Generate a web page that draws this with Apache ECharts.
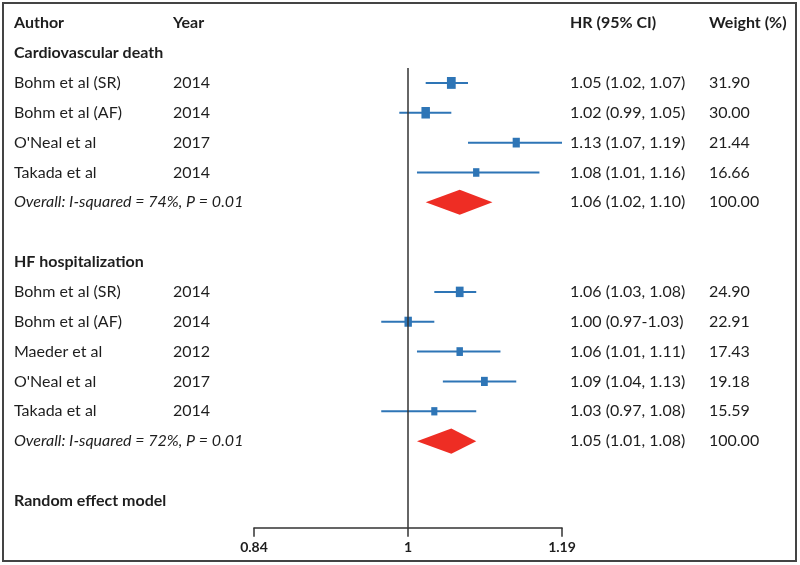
<!DOCTYPE html>
<html>
<head>
<meta charset="utf-8">
<script src="https://cdn.jsdelivr.net/npm/echarts@6/dist/echarts.min.js"></script>
<style>
  html, body { margin: 0; padding: 0; background: #fff; }
  #chart { width: 800px; height: 565px; }
</style>
</head>
<body>
<div id="chart"></div>
<script>
// study level data
const authors = ['Bohm et al (SR)', 'Bohm et al (AF)', "O'Neal et al", 'Takada et al',
                 'Bohm et al (SR)', 'Bohm et al (AF)', 'Maeder et al', "O'Neal et al", 'Takada et al'];
const years = ['2014', '2014', '2017', '2014', '2014', '2014', '2012', '2017', '2014'];
const hr = [1.05, 1.02, 1.13, 1.08, 1.06, 1.00, 1.06, 1.09, 1.03];
const lower = [1.02, 0.99, 1.07, 1.01, 1.03, 0.97, 1.01, 1.04, 0.97];
const upper = [1.07, 1.05, 1.19, 1.16, 1.08, 1.03, 1.11, 1.13, 1.08];
const ciLabels = ['1.05 (1.02, 1.07)', '1.02 (0.99, 1.05)', '1.13 (1.07, 1.19)', '1.08 (1.01, 1.16)',
                  '1.06 (1.03, 1.08)', '1.00 (0.97-1.03)', '1.06 (1.01, 1.11)', '1.09 (1.04, 1.13)', '1.03 (0.97, 1.08)'];
const weights = ['31.90', '30.00', '21.44', '16.66', '24.90', '22.91', '17.43', '19.18', '15.59'];
const studyRows = [2, 3, 4, 5, 9, 10, 11, 12, 13];

// pooled estimates
const pooledText = ['Overall: I-squared = 74%, P = 0.01', 'Overall: I-squared = 72%, P = 0.01'];
const pooledHr = [1.06, 1.05];
const pooledLow = [1.02, 1.01];
const pooledHigh = [1.10, 1.08];
const pooledLabels = ['1.06 (1.02, 1.10)', '1.05 (1.01, 1.08)'];
const pooledWeight = ['100.00', '100.00'];
const pooledRows = [6, 14];

const groupNames = ['Cardiovascular death', 'HF hospitalization'];
const groupRows = [1, 8];
const headers = ['Author', 'Year', 'HR (95% CI)', 'Weight (%)'];
const footer = 'Random effect model';
const footerRow = 16;

const tickValues = [0.84, 1, 1.19];

const BLUE = '#2E75B6';
const RED = '#EE2D24';
const TXT = '#1e1e1e';
const FONT = 'Lato';
const colX = [14, 173, 570, 709];

// table rows for the text columns
const tableRows = [];
tableRows.push({ row: 0, cells: headers, bold: true });
groupNames.forEach((g, i) => tableRows.push({ row: groupRows[i], cells: [g], bold: true }));
authors.forEach((a, i) => tableRows.push({ row: studyRows[i], cells: [a, years[i], ciLabels[i], weights[i]] }));
pooledText.forEach((t, i) => tableRows.push({ row: pooledRows[i], cells: [t, '', pooledLabels[i], pooledWeight[i]], italicFirst: true }));
tableRows.push({ row: footerRow, cells: [footer], bold: true });

const chart = echarts.init(document.getElementById('chart'));

const option = {
  backgroundColor: '#fff',
  animation: false,
  grid: { left: 254, right: 238, top: 68, bottom: 37.3 },
  xAxis: {
    type: 'log',
    min: 0.84,
    max: 1.19,
    axisLine: { onZero: false, lineStyle: { color: '#333', width: 1.5 } },
    axisTick: { show: true, customValues: tickValues, length: 9, lineStyle: { color: '#333', width: 1.5 } },
    axisLabel: {
      customValues: tickValues,
      margin: 13,
      color: TXT,
      fontFamily: FONT,
      fontWeight: 'bold',
      fontSize: 14,
      formatter: v => String(+(+v).toFixed(2))
    },
    splitLine: { show: false },
    minorTick: { show: false }
  },
  yAxis: {
    type: 'value',
    inverse: true,
    min: 1.5,
    max: 16.9,
    show: false
  },
  graphic: [{
    type: 'rect',
    shape: { x: 3, y: 3, width: 793, height: 558 },
    style: { fill: 'none', stroke: '#444', lineWidth: 2 },
    silent: true
  }],
  series: [
    {
      // text columns
      type: 'custom',
      name: 'table',
      silent: true,
      data: tableRows.map(r => [1, r.row]),
      encode: { x: 0, y: 1 },
      renderItem: function (params, api) {
        const r = tableRows[params.dataIndex];
        const y = api.coord([1, api.value(1)])[1];
        const children = r.cells.map((c, j) => ({
          type: 'text',
          style: {
            text: c,
            x: colX[j],
            y: y,
            verticalAlign: 'middle',
            fill: TXT,
            fontFamily: FONT,
            fontSize: 16,
            fontWeight: r.bold ? 'bold' : 'normal',
            fontStyle: (r.italicFirst && j === 0) ? 'italic' : 'normal'
          }
        }));
        return { type: 'group', children: children };
      },
      markLine: {
        silent: true,
        symbol: ['none', 'none'],
        label: { show: false },
        lineStyle: { color: '#333', width: 1.5, type: 'solid' },
        data: [{ xAxis: 1 }]
      }
    },
    {
      // confidence intervals and weighted squares
      type: 'custom',
      name: 'studies',
      data: hr.map((h, i) => [h, studyRows[i], lower[i], upper[i], +weights[i]]),
      encode: { x: [0, 2, 3], y: 1 },
      renderItem: function (params, api) {
        const row = api.value(1);
        const p0 = api.coord([api.value(2), row]);
        const p1 = api.coord([api.value(3), row]);
        const c = api.coord([api.value(0), row]);
        const s = Math.sqrt(api.value(4));
        const w = 1.55 * s, h = 2.1 * s;
        return {
          type: 'group',
          children: [
            { type: 'line', shape: { x1: p0[0], y1: p0[1], x2: p1[0], y2: p1[1] },
              style: { stroke: BLUE, lineWidth: 2 } },
            { type: 'rect', shape: { x: c[0] - w / 2, y: c[1] - h / 2, width: w, height: h },
              style: { fill: BLUE } }
          ]
        };
      }
    },
    {
      // pooled diamonds
      type: 'custom',
      name: 'pooled',
      data: pooledHr.map((h, i) => [h, pooledRows[i], pooledLow[i], pooledHigh[i]]),
      encode: { x: [0, 2, 3], y: 1 },
      renderItem: function (params, api) {
        const row = api.value(1);
        const half = 0.42;
        const pts = [
          api.coord([api.value(2), row]),
          api.coord([api.value(0), row - half]),
          api.coord([api.value(3), row]),
          api.coord([api.value(0), row + half])
        ];
        return { type: 'polygon', shape: { points: pts }, style: { fill: RED } };
      }
    }
  ]
};

chart.setOption(option);
</script>
</body>
</html>
